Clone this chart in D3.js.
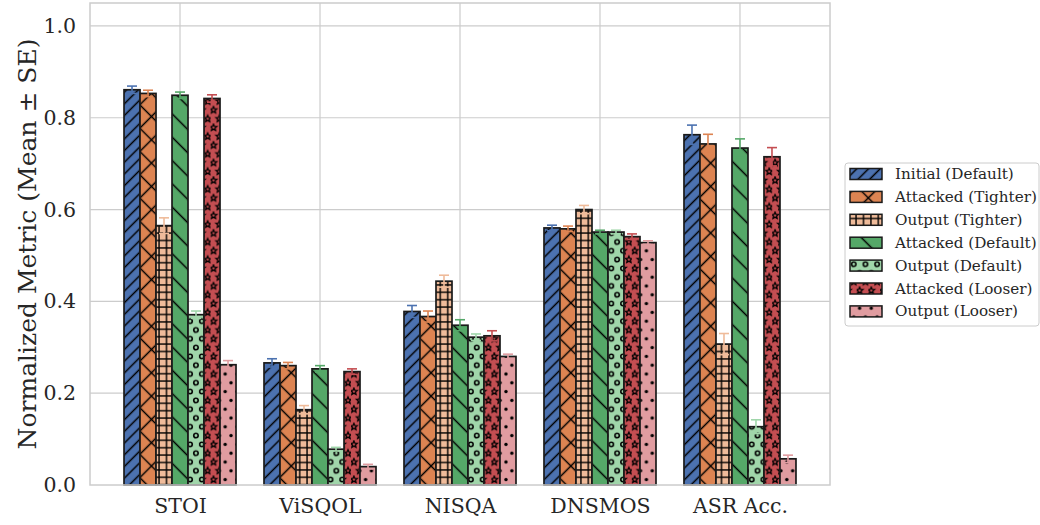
<!DOCTYPE html>
<html>
<head>
<meta charset="utf-8">
<script src="https://cdn.jsdelivr.net/npm/d3@7"></script>
<style>
  body { margin: 0; background: #fff; }
  svg { display: block; font-family: "DejaVu Serif", serif; }
</style>
</head>
<body>
<svg width="1040" height="525"></svg>
<script>
const categories = ["STOI", "ViSQOL", "NISQA", "DNSMOS", "ASR Acc."];
const seriesNames = ["Initial (Default)", "Attacked (Tighter)", "Output (Tighter)", "Attacked (Default)",
    "Output (Default)", "Attacked (Looser)", "Output (Looser)"];

const initialDefault = [0.861, 0.266, 0.378, 0.560, 0.763];
const attackedTighter = [0.853, 0.260, 0.367, 0.558, 0.743];
const outputTighter = [0.565, 0.164, 0.444, 0.600, 0.307];
const attackedDefault = [0.849, 0.253, 0.348, 0.551, 0.734];
const outputDefault = [0.371, 0.078, 0.322, 0.551, 0.127];
const attackedLooser = [0.842, 0.247, 0.325, 0.541, 0.715];
const outputLooser = [0.262, 0.040, 0.280, 0.528, 0.057];

const errInitialDefault = [0.008, 0.009, 0.013, 0.006, 0.021];
const errAttackedTighter = [0.007, 0.007, 0.012, 0.006, 0.021];
const errOutputTighter = [0.017, 0.009, 0.013, 0.009, 0.023];
const errAttackedDefault = [0.007, 0.007, 0.012, 0.004, 0.020];
const errOutputDefault = [0.008, 0.004, 0.007, 0.004, 0.015];
const errAttackedLooser = [0.008, 0.006, 0.011, 0.006, 0.020];
const errOutputLooser = [0.009, 0.005, 0.005, 0.004, 0.008];

const yTicks = [0.0, 0.2, 0.4, 0.6, 0.8, 1.0];

let means = [initialDefault, attackedTighter, outputTighter, attackedDefault, outputDefault, attackedLooser, outputLooser];
let errs = [errInitialDefault, errAttackedTighter, errOutputTighter, errAttackedDefault, errOutputDefault, errAttackedLooser, errOutputLooser];
let colors = ["#4C72B0", "#DD8452", "#EFBB9A", "#55A868", "#A0D6AA", "#C44E52", "#E09CA0"];
let hatches = ["slash", "cross", "plus", "back", "circle", "star", "dot"];

let pLeft = 90, pRight = 830, pTop = 3, pBottom = 485;
let svg = d3.select("svg");

let xScale = d3.scalePoint().domain(categories).range([pLeft, pRight]).padding(0.643);
let step = xScale.step();
let inner = d3.scaleBand().domain(d3.range(seriesNames.length)).range([-0.4 * step, 0.4 * step]);
let yScale = d3.scaleLinear().domain([0, 1.05]).range([pBottom, pTop]);

// hatch patterns
let defs = svg.append("defs");
let hatchW = 1.5;
let mkPattern = (id, color, w, h, draw, transform) => {
    let p = defs.append("pattern").attr("id", id)
        .attr("patternUnits", "userSpaceOnUse")
        .attr("width", w).attr("height", h);
    if (transform) p.attr("patternTransform", transform);
    p.append("rect").attr("width", w).attr("height", h).attr("fill", color);
    draw(p);
};
let starPath = (cx, cy, r) => {
    let pts = [];
    for (let k = 0; k < 10; k++) {
        let rr = k % 2 == 0 ? r : r * 0.45;
        let a = -Math.PI / 2 + k * Math.PI / 5;
        pts.push([cx + rr * Math.cos(a), cy + rr * Math.sin(a)]);
    }
    return "M" + pts.map(p => p.join(",")).join("L") + "Z";
};

hatches.forEach((hname, i) => {
    let id = "h" + i, c = colors[i];
    if (hname == "slash" || hname == "back") {
        let s = hname == "slash" ? 11.7 / Math.SQRT2 : 23.3 / Math.SQRT2;
        mkPattern(id, c, s, s, p => p.append("line").attr("x1", s / 2).attr("x2", s / 2)
            .attr("y1", -1).attr("y2", s + 1).attr("stroke", "#000").attr("stroke-width", hatchW),
            hname == "slash" ? "rotate(45)" : "rotate(-45)");
    } else if (hname == "cross") {
        let s = 23.3 / Math.SQRT2;
        mkPattern(id, c, s, s, p => p.append("path").attr("d", `M${s/2},-1V${s+1}M-1,${s/2}H${s+1}`)
            .attr("stroke", "#000").attr("stroke-width", hatchW), "rotate(45)");
    } else if (hname == "plus") {
        let s = 7.4;
        mkPattern(id, c, s, s, p => p.append("path").attr("d", `M${s/2},0V${s}M0,${s/2}H${s}`)
            .attr("stroke", "#000").attr("stroke-width", 1.4));
    } else if (hname == "circle") {
        mkPattern(id, c, 11.7, 17.6, p => {
            [[2.9, 4.4], [8.75, 13.2]].forEach(d => p.append("circle").attr("cx", d[0]).attr("cy", d[1])
                .attr("r", 2.2).attr("fill", "none").attr("stroke", "#000").attr("stroke-width", 1.6));
        });
    } else if (hname == "star") {
        mkPattern(id, c, 11.7, 17.6, p => {
            [[2.9, 4.4], [8.75, 13.2]].forEach(d => p.append("path").attr("d", starPath(d[0], d[1], 3.5))
                .attr("fill", "none").attr("stroke", "#000").attr("stroke-width", 1.3));
        });
    } else {
        mkPattern(id, c, 11.7, 17.6, p => {
            [[2.9, 4.4], [8.75, 13.2]].forEach(d => p.append("circle").attr("cx", d[0]).attr("cy", d[1])
                .attr("r", 1.7).attr("fill", "#000"));
        });
    }
});

// grid
svg.append("g").selectAll("line").data(yTicks.slice(1)).enter().append("line")
    .attr("x1", pLeft).attr("x2", pRight)
    .attr("y1", d => yScale(d)).attr("y2", d => yScale(d))
    .attr("stroke", "#cccccc").attr("stroke-width", 1.2);
svg.append("g").selectAll("line").data(categories).enter().append("line")
    .attr("x1", d => xScale(d)).attr("x2", d => xScale(d))
    .attr("y1", pTop).attr("y2", pBottom)
    .attr("stroke", "#cccccc").attr("stroke-width", 1.2);

// bars
let bw = inner.bandwidth();
means.forEach((vals, si) => {
    let g = svg.append("g");
    g.selectAll("rect").data(vals).enter().append("rect")
        .attr("x", (d, ci) => xScale(categories[ci]) + inner(si))
        .attr("width", bw)
        .attr("y", d => yScale(d))
        .attr("height", d => yScale(0) - yScale(d))
        .attr("fill", "url(#h" + si + ")")
        .attr("stroke", "#1a1a1a").attr("stroke-width", 1.7);
});

// error bars
means.forEach((vals, si) => {
    let g = svg.append("g").attr("stroke", colors[si]).attr("stroke-width", 1.6);
    vals.forEach((d, ci) => {
        let cx = xScale(categories[ci]) + inner(si) + bw / 2;
        let e = errs[si][ci];
        g.append("line").attr("x1", cx).attr("x2", cx).attr("y1", yScale(d - e)).attr("y2", yScale(d + e));
        [d - e, d + e].forEach(v => g.append("line").attr("x1", cx - 5).attr("x2", cx + 5)
            .attr("y1", yScale(v)).attr("y2", yScale(v)));
    });
});

// frame
svg.append("rect").attr("x", pLeft).attr("y", pTop).attr("width", pRight - pLeft).attr("height", pBottom - pTop)
    .attr("fill", "none").attr("stroke", "#cccccc").attr("stroke-width", 1.5);

// axes
let yAxis = d3.axisLeft(yScale).tickValues(yTicks).tickFormat(d3.format(".1f")).tickSize(0).tickPadding(14);
let yg = svg.append("g").attr("transform", "translate(" + pLeft + ",0)").call(yAxis);
let xAxis = d3.axisBottom(xScale).tickSize(0).tickPadding(13);
let xg = svg.append("g").attr("transform", "translate(0," + pBottom + ")").call(xAxis);
[yg, xg].forEach(g => {
    g.select(".domain").remove();
    g.selectAll("text").attr("font-family", "DejaVu Serif").attr("font-size", 20.5).attr("fill", "#262626");
});

svg.append("text")
    .attr("transform", "translate(36," + ((pTop + pBottom) / 2) + ") rotate(-90)")
    .attr("text-anchor", "middle")
    .attr("font-size", 25).attr("fill", "#262626")
    .text("Normalized Metric (Mean ± SE)");

// legend
let lg = svg.append("g").attr("transform", "translate(845,163)");
lg.append("rect").attr("width", 194).attr("height", 163).attr("rx", 3)
    .attr("fill", "#fff").attr("stroke", "#cccccc").attr("stroke-width", 1);
seriesNames.forEach((name, i) => {
    let y = 11 + i * 22.9;
    lg.append("rect").attr("x", 5).attr("y", y - 5.5).attr("width", 32).attr("height", 11)
        .attr("fill", "url(#h" + i + ")").attr("stroke", "#1a1a1a").attr("stroke-width", 1.5);
    lg.append("text").attr("x", 50).attr("y", y + 5)
        .attr("font-size", 15.2).attr("fill", "#262626").text(name);
});
</script>
</body>
</html>
